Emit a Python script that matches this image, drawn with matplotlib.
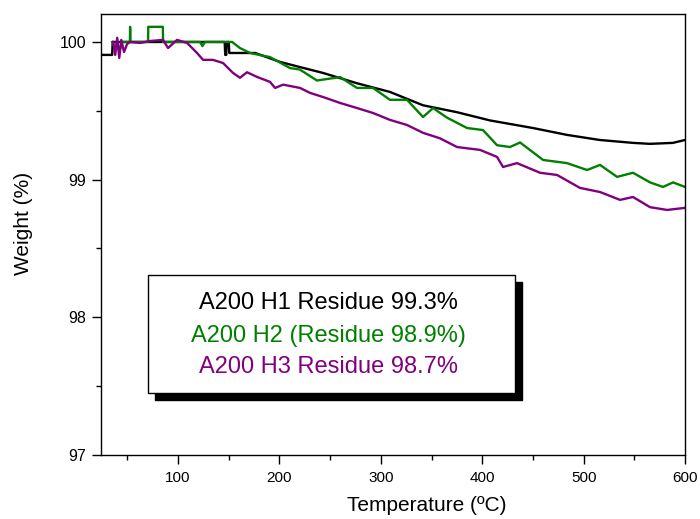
import matplotlib.pyplot as plt
from matplotlib.patches import Rectangle
from matplotlib.ticker import MultipleLocator

plt.rcParams['font.family'] = ['Liberation Sans', 'DejaVu Sans']

#%% data

temp_h1 = [24, 35, 35.5, 146, 146.5, 147.5, 148, 150, 150.5, 176,
           200.6, 220, 243, 276.5, 309, 341.6, 375, 407.7, 450, 483.6,
           516, 548.7, 565.5, 588, 600]
weight_h1 = [99.906, 99.906, 100, 100, 99.906, 99.906, 100, 100, 99.92, 99.92,
             99.855, 99.818, 99.775, 99.70, 99.637, 99.54, 99.49, 99.43, 99.375, 99.325,
             99.288, 99.267, 99.26, 99.267, 99.288]

temp_h2 = [35, 38, 40, 42, 45, 52.5, 52.7, 53, 70.4, 70.6,
           85, 85.2, 121.7, 124, 126.5, 153.3, 161, 171, 190.7, 210.5,
           220, 237, 259.8, 276.5, 292.3, 309, 325.8, 341.6, 351.5, 365.3,
           385, 400.8, 414.6, 427.4, 437.3, 460, 483.6, 503.4, 516.2, 533,
           548.7, 565.5, 578.3, 588.2, 600]
weight_h2 = [100, 99.95, 100, 99.93, 100, 100, 100.11, 100, 100, 100.11,
             100.11, 100, 100, 99.97, 100, 100, 99.956, 99.92, 99.89, 99.81,
             99.80, 99.72, 99.745, 99.666, 99.666, 99.58, 99.58, 99.455, 99.52, 99.45,
             99.375, 99.36, 99.25, 99.237, 99.27, 99.143, 99.12, 99.07, 99.107, 99.02,
             99.05, 98.98, 98.947, 98.98, 98.947]

temp_h3 = [36, 38, 40, 42, 44, 46.7, 49.7, 52.7, 62.5, 72.4,
           85.2, 90.1, 99, 108.9, 118.7, 124.7, 134.5, 144.4, 154.2, 161.1,
           168, 177.9, 190.7, 195.7, 203.6, 220.3, 230.2, 243, 259.8, 276.5,
           292.3, 309, 325.8, 341.6, 358.4, 375.1, 397.8, 414.6, 420.5, 434.3,
           457, 473.8, 496.4, 516.2, 535.9, 548.7, 565.5, 582.3, 600]
weight_h3 = [100, 99.906, 100.03, 99.884, 100.015, 99.927, 99.985, 100, 99.993, 100.007,
             100.015, 99.956, 100.015, 99.993, 99.92, 99.87, 99.87, 99.847, 99.775, 99.74,
             99.78, 99.746, 99.71, 99.666, 99.69, 99.666, 99.63, 99.60, 99.557, 99.52,
             99.484, 99.434, 99.397, 99.34, 99.30, 99.237, 99.216, 99.165, 99.092, 99.12,
             99.05, 99.034, 98.94, 98.91, 98.853, 98.874, 98.80, 98.78, 98.795]

labels = ['A200 H1 Residue 99.3%', 'A200 H2 (Residue 98.9%)', 'A200 H3 Residue 98.7%']
colors = ['black', '#008000', '#800080']

#%% plot

fig = plt.figure(figsize=(7, 5.19), dpi=100)
ax = fig.add_axes([0.1443, 0.1233, 0.8343, 0.8497])

for t, w, c in zip([temp_h1, temp_h2, temp_h3], [weight_h1, weight_h2, weight_h3], colors):
    ax.plot(t, w, color=c, lw=1.7)

ax.set_xlim(24, 600)
ax.set_ylim(97, 100.203)
ax.set_xticks([100, 200, 300, 400, 500, 600])
ax.set_yticks([97, 98, 99, 100])
ax.xaxis.set_minor_locator(MultipleLocator(50))
ax.yaxis.set_minor_locator(MultipleLocator(0.5))
ax.tick_params(which='major', length=6.5, width=1, labelsize=11, pad=4)
ax.tick_params(axis='y', which='major', labelsize=11.5)
ax.tick_params(axis='x', which='major', pad=5)
ax.tick_params(which='minor', length=3.6, width=1)
for s in ax.spines.values():
    s.set_linewidth(1)

ax.set_xlabel('Temperature (ºC)', fontsize=15)
ax.xaxis.set_label_coords(0.558, -0.093)
ax.set_ylabel('Weight (%)', fontsize=15)
ax.yaxis.set_label_coords(-0.116, 0.524)

# boxed text legend with drop shadow
ax.add_patch(Rectangle((0.0925, 0.125), 0.6285, 0.268, transform=ax.transAxes,
                       facecolor='black', edgecolor='black', zorder=5))
ax.add_patch(Rectangle((0.0805, 0.1406), 0.6285, 0.268, transform=ax.transAxes,
                       facecolor='white', edgecolor='black', lw=1, zorder=6))
for lab, c, yy in zip(labels, colors, [0.345, 0.270, 0.1995]):
    ax.text(0.390, yy, lab, color=c, fontsize=17, ha='center', va='center',
            transform=ax.transAxes, zorder=7)

plt.savefig('out.png', dpi=100)
